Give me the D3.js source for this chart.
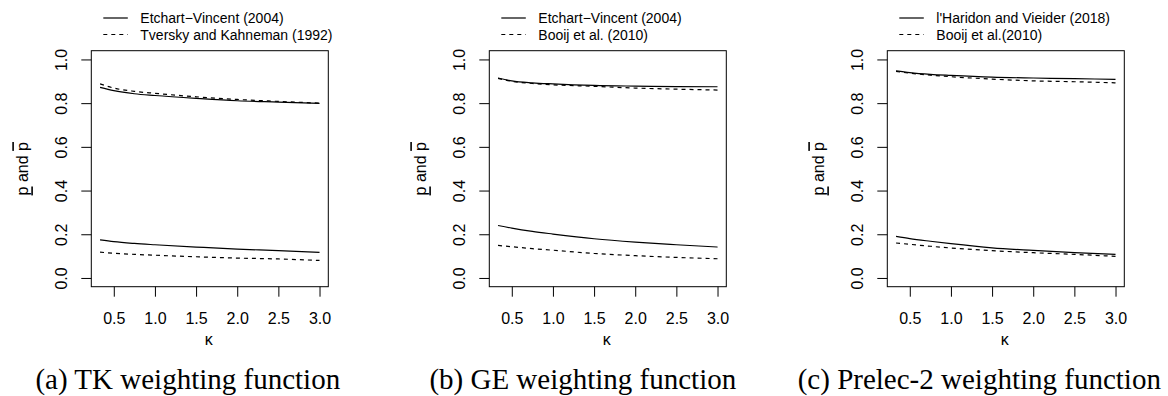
<!DOCTYPE html>
<html>
<head>
<meta charset="utf-8">
<script src="https://cdn.jsdelivr.net/npm/d3@7"></script>
<style>
  body { margin: 0; background: #fff; }
  svg { display: block; }
  text { font-family: "Liberation Sans", Arial, sans-serif; fill: #000; }
  .caption { font-family: "Liberation Serif", "Times New Roman", serif; }
</style>
</head>
<body>
<div id="chart"></div>
<script>
// kappa grid
const kappa = [0.333, 0.5, 0.75, 1, 1.5, 2, 2.5, 3];

// (a) TK weighting function
const tkEtchartUpper = [0.872, 0.857, 0.843, 0.835, 0.822, 0.811, 0.805, 0.799];
const tkEtchartLower = [0.174, 0.166, 0.158, 0.152, 0.1415, 0.132, 0.125, 0.117];
const tkTverskyUpper = [0.888, 0.869, 0.854, 0.845, 0.829, 0.817, 0.808, 0.800];
const tkTverskyLower = [0.118, 0.113, 0.108, 0.104, 0.097, 0.091, 0.087, 0.080];

// (b) GE weighting function
const geEtchartUpper = [0.915, 0.902, 0.893, 0.888, 0.881, 0.878, 0.876, 0.875];
const geEtchartLower = [0.240, 0.228, 0.213, 0.201, 0.1795, 0.164, 0.152, 0.1415];
const geBooijUpper = [0.913, 0.900, 0.890, 0.884, 0.877, 0.869, 0.864, 0.860];
const geBooijLower = [0.149, 0.143, 0.134, 0.127, 0.112, 0.102, 0.094, 0.088];

// (c) Prelec-2 weighting function
const prHaridonUpper = [0.948, 0.940, 0.932, 0.927, 0.919, 0.915, 0.912, 0.909];
const prHaridonLower = [0.190, 0.180, 0.168, 0.157, 0.138, 0.126, 0.1155, 0.108];
const prBooijUpper = [0.945, 0.937, 0.928, 0.921, 0.910, 0.902, 0.898, 0.893];
const prBooijLower = [0.160, 0.154, 0.145, 0.137, 0.125, 0.1155, 0.108, 0.099];

const xTicks = [0.5, 1.0, 1.5, 2.0, 2.5, 3.0];
const yTicks = [0.0, 0.2, 0.4, 0.6, 0.8, 1.0];

const legendSolid = ["Etchart\u2212Vincent (2004)", "Etchart\u2212Vincent (2004)", "l'Haridon and Vieider (2018)"];
const legendDashed = ["Tversky and Kahneman (1992)", "Booij et al. (2010)", "Booij et al.(2010)"];
const captions = ["(a) TK weighting function", "(b) GE weighting function", "(c) Prelec-2 weighting function"];

const panels = [
    { left: 91.3, capX: 96.5, solid: [tkEtchartUpper, tkEtchartLower], dashed: [tkTverskyUpper, tkTverskyLower] },
    { left: 489.3, capX: 93.5, solid: [geEtchartUpper, geEtchartLower], dashed: [geBooijUpper, geBooijLower] },
    { left: 887.3, capX: 92, solid: [prHaridonUpper, prHaridonLower], dashed: [prBooijUpper, prBooijLower] }
];

const width = 1168;
const height = 396;
const plotTop = 50.7;
const plotW = 237;
const plotH = 236;

const svg = d3.select("#chart")
    .append("svg")
    .attr("width", width)
    .attr("height", height);

// R style: 4% padding around the data range
const x = d3.scaleLinear().domain([0.2267, 3.1067]).range([0, plotW]);
const y = d3.scaleLinear().domain([-0.04, 1.04]).range([plotH, 0]);

const line = d3.line()
    .x((d, i) => x(kappa[i]))
    .y(d => y(d))
    .curve(d3.curveMonotoneX);

panels.forEach((p, idx) => {
    const g = svg.append("g")
        .attr("transform", `translate(${p.left},${plotTop})`);

    // axes
    const xAxis = g.append("g")
        .attr("transform", `translate(0,${plotH})`)
        .call(d3.axisBottom(x).tickValues(xTicks).tickFormat(d3.format(".1f")).tickSize(10));
    xAxis.select(".domain").remove();
    xAxis.selectAll("text")
        .attr("y", 26)
        .attr("dy", "0.71em")
        .style("font-size", "16px");

    const yAxis = g.append("g")
        .call(d3.axisLeft(y).tickValues(yTicks).tickFormat(d3.format(".1f")).tickSize(10));
    yAxis.select(".domain").remove();
    yAxis.selectAll("text")
        .attr("x", null)
        .attr("dy", null)
        .attr("text-anchor", "middle")
        .attr("dominant-baseline", "central")
        .attr("transform", "translate(-29.6,0) rotate(-90)")
        .style("font-size", "16px");
    g.selectAll(".tick line").attr("stroke", "#000");

    // box
    g.append("rect")
        .attr("width", plotW)
        .attr("height", plotH)
        .attr("fill", "none")
        .attr("stroke", "#000")
        .attr("stroke-width", 1);

    // curves
    p.solid.forEach(s => {
        g.append("path")
            .datum(s)
            .attr("d", line)
            .attr("fill", "none")
            .attr("stroke", "#000")
            .attr("stroke-width", 1.2);
    });
    p.dashed.forEach(s => {
        g.append("path")
            .datum(s)
            .attr("d", line)
            .attr("fill", "none")
            .attr("stroke", "#000")
            .attr("stroke-width", 1.2)
            .attr("stroke-dasharray", "4,4");
    });

    // axis titles
    g.append("text")
        .attr("x", plotW / 2 - 1)
        .attr("y", 294)
        .attr("text-anchor", "middle")
        .style("font-size", "16px")
        .text("\u03ba");

    const yt = g.append("text")
        .attr("transform", `translate(-69,${plotH / 2}) rotate(-90)`)
        .attr("text-anchor", "middle")
        .attr("dominant-baseline", "central")
        .style("font-size", "16px");
    yt.append("tspan").style("text-decoration", "underline").text("p");
    yt.append("tspan").text(" and ");
    yt.append("tspan").style("text-decoration", "overline").text("p");

    // legend
    const leg = g.append("g").attr("transform", `translate(0,${-plotTop})`);
    [legendSolid[idx], legendDashed[idx]].forEach((label, i) => {
        const ly = 18 + i * 16.5;
        leg.append("line")
            .attr("x1", 12).attr("x2", 36.5)
            .attr("y1", ly).attr("y2", ly)
            .attr("stroke", "#000")
            .attr("stroke-width", 1.2)
            .attr("stroke-dasharray", i === 1 ? "4,4" : null);
        leg.append("text")
            .attr("x", 49)
            .attr("y", ly)
            .attr("dominant-baseline", "central")
            .style("font-size", "14px")
            .text(label);
    });

    // caption
    g.append("text")
        .attr("class", "caption")
        .attr("x", p.capX)
        .attr("y", 389 - plotTop)
        .attr("text-anchor", "middle")
        .style("font-size", "29px")
        .text(captions[idx]);
});
</script>
</body>
</html>
